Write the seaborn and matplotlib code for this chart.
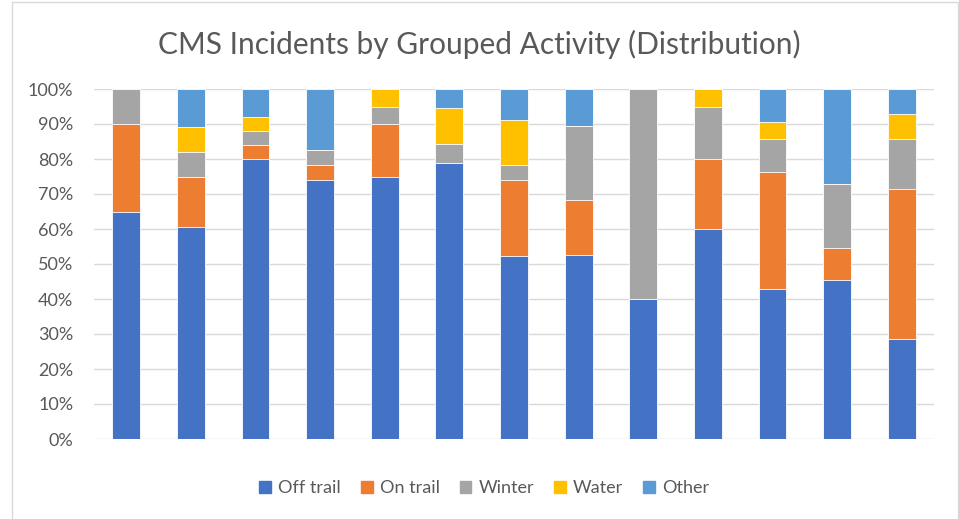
import numpy as np
import pandas as pd
import matplotlib
matplotlib.use("Agg")
import matplotlib.pyplot as plt
import seaborn as sns
from matplotlib.patches import Rectangle
from matplotlib.ticker import PercentFormatter

# Share of incidents per grouped activity (%), one value per bar
off_trail = [65.0, 60.7, 80.0, 73.9, 75.0, 78.9, 52.2, 52.6, 40.0, 60.0, 42.9, 45.5, 28.6]
on_trail = [25.0, 14.3, 4.0, 4.3, 15.0, 0.0, 21.7, 15.8, 0.0, 20.0, 33.3, 9.1, 42.9]
winter = [10.0, 7.1, 4.0, 4.3, 5.0, 5.3, 4.3, 21.1, 60.0, 15.0, 9.5, 18.2, 14.3]
water = [0.0, 7.1, 4.0, 0.0, 5.0, 10.5, 13.0, 0.0, 0.0, 5.0, 4.8, 0.0, 7.1]
other = [0.0, 10.7, 8.0, 17.4, 0.0, 5.3, 8.7, 10.5, 0.0, 0.0, 9.5, 27.3, 7.1]

series = ["Off trail", "On trail", "Winter", "Water", "Other"]
colors = ["#4472C4", "#ED7D31", "#A5A5A5", "#FFC000", "#5B9BD5"]

df = pd.DataFrame({
    "group": [str(i) for i in range(1, len(off_trail) + 1)],
    "Off trail": off_trail,
    "On trail": on_trail,
    "Winter": winter,
    "Water": water,
    "Other": other,
})

sns.set_theme(style="white")
plt.rcParams["font.family"] = ["Lato", "DejaVu Sans"]

fig = plt.figure(figsize=(9.59, 5.19), dpi=100)
ax = fig.add_axes([94 / 959, 1 - 439 / 519, 840 / 959, 350 / 519])

# stacked bars: draw cumulative totals from the top layer down
cum = df[series].cumsum(axis=1)
for name, col in reversed(list(zip(series, colors))):
    sns.barplot(x=df["group"], y=cum[name], color=col, width=0.43,
                saturation=1, ax=ax, linewidth=0.6, edgecolor="white", zorder=2)

ax.set_ylim(0, 100)
ax.set_xlim(-0.5, len(off_trail) - 0.5)
ax.set_yticks(np.arange(0, 101, 10))
ax.yaxis.set_major_formatter(PercentFormatter(decimals=0))
ax.tick_params(axis="y", labelsize=13, labelcolor="#595959", length=0, pad=15)
ax.set_xticks([])
ax.set_xlabel("")
ax.set_ylabel("")
ax.grid(axis="y", color="#D9D9D9", linewidth=1, zorder=0)
ax.set_axisbelow(True)
for s in ax.spines.values():
    s.set_visible(False)

fig.text(0.5, 1 - 44 / 519, "CMS Incidents by Grouped Activity (Distribution)",
         ha="center", va="center", fontsize=21.5, color="#595959")

handles = [Rectangle((0, 0), 1, 1, color=c) for c in colors]
fig.legend(handles, series, loc="center", bbox_to_anchor=(0.505, 1 - 488 / 519),
           ncol=5, frameon=False, fontsize=13, labelcolor="#595959",
           handlelength=0.65, handleheight=0.65, handletextpad=0.4, columnspacing=1.1)

# chart area border
fig.patches.append(Rectangle((12 / 959, -0.01), 946 / 959, 1 - 2 / 519 + 0.01,
                             transform=fig.transFigure, fill=False,
                             edgecolor="#D9D9D9", linewidth=1))

fig.savefig("out.png", dpi=100)
